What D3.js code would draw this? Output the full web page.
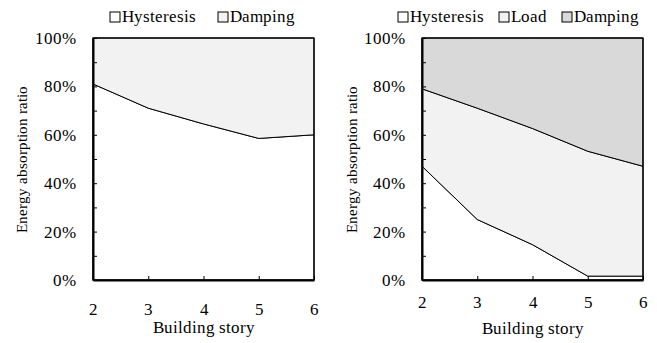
<!DOCTYPE html>
<html>
<head>
<meta charset="utf-8">
<script src="https://cdn.jsdelivr.net/npm/d3@7/dist/d3.min.js"></script>
<style>
  @font-face {
    font-family: "ChartSerif";
    src: local("Liberation Serif"), local("LiberationSerif"), local("LiberationSerif-Regular"),
         local("Times New Roman"), local("DejaVu Serif"), local("DejaVuSerif");
  }
  html, body { margin: 0; padding: 0; background: #fff; }
  svg text { font-family: "ChartSerif", "Liberation Serif", "Times New Roman", serif !important; }
</style>
</head>
<body>
<svg id="chart" width="657" height="343"></svg>
<script>
// Building stories on the x axis
const stories = [2, 3, 4, 5, 6];

// Left panel: energy share (%) per story
const leftHysteresis = [81, 71, 64.5, 58.5, 60];
const leftDamping = [19, 29, 35.5, 41.5, 40];

// Right panel: energy share (%) per story
const rightHysteresis = [47, 25, 14.6, 1.6, 1.6];
const rightLoad = [32, 46, 48, 51.6, 45.4];
const rightDamping = [21, 29, 37.4, 46.8, 53];

// Axis ticks
const yTicks = [0, 10, 20, 30, 40, 50, 60, 70, 80, 90, 100];
const yLabelTicks = [0, 20, 40, 60, 80, 100];

const svg = d3.select("#chart");
const FONT = 17;

function drawPanel(cfg) {
  const x = d3.scaleLinear().domain([2, 6]).range([cfg.x0, cfg.x1]);
  const y = d3.scaleLinear().domain([0, 100]).range([280, 38]);

  const rows = stories.map((s, i) => {
    const r = { story: s };
    cfg.series.forEach(se => { r[se.name] = se.values[i]; });
    return r;
  });
  const stack = d3.stack().keys(cfg.series.map(s => s.name))(rows);

  const g = svg.append("g");

  const area = d3.area()
    .x(d => x(d.data.story))
    .y0(d => y(d[0]))
    .y1(d => y(d[1]));

  g.selectAll("path.layer")
    .data(stack)
    .join("path")
    .attr("class", "layer")
    .attr("d", area)
    .attr("fill", (d, i) => cfg.series[i].color)
    .attr("stroke", "#000")
    .attr("stroke-width", 1)
    .attr("stroke-linejoin", "round");

  // Plot frame
  g.append("rect")
    .attr("x", x(2)).attr("y", y(100))
    .attr("width", x(6) - x(2)).attr("height", y(0) - y(100))
    .attr("fill", "none").attr("stroke", "#000").attr("stroke-width", 1.3);

  // Y axis
  const yAxis = d3.axisLeft(y)
    .tickValues(yTicks)
    .tickSizeInner(-4)
    .tickSizeOuter(0)
    .tickPadding(17)
    .tickFormat(d => yLabelTicks.includes(d) ? d + "%" : "");
  const ya = g.append("g").attr("transform", `translate(${x(2)},0)`).call(yAxis);
  ya.select(".domain").attr("stroke-width", 2);
  ya.selectAll("text").attr("font-size", FONT).attr("fill", "#000");

  // X axis
  const xAxis = d3.axisBottom(x)
    .tickValues(stories)
    .tickSizeInner(-4)
    .tickSizeOuter(0)
    .tickPadding(cfg.xPad)
    .tickFormat(d3.format("d"));
  const xa = g.append("g").attr("transform", `translate(0,${y(0)})`).call(xAxis);
  xa.select(".domain").attr("stroke-width", 2);
  xa.selectAll("text").attr("font-size", FONT).attr("fill", "#000");

  // Axis titles
  g.append("text")
    .attr("x", (cfg.x0 + cfg.x1) / 2)
    .attr("y", cfg.xTitleY)
    .attr("text-anchor", "middle")
    .attr("font-size", FONT)
    .text("Building story");

  g.append("text")
    .attr("transform", `translate(${cfg.yTitleX},159) rotate(-90)`)
    .attr("text-anchor", "middle")
    .attr("font-size", 15)
    .text("Energy absorption ratio");

  // Legend
  const lg = g.append("g");
  cfg.series.forEach((se, i) => {
    const lx = cfg.legendX[i];
    lg.append("rect")
      .attr("x", lx).attr("y", 12)
      .attr("width", 10).attr("height", 10)
      .attr("fill", se.color).attr("stroke", "#000").attr("stroke-width", 1);
    lg.append("text")
      .attr("x", lx + 12).attr("y", 22)
      .attr("font-size", FONT)
      .text(se.name);
  });
}

drawPanel({
  x0: 93, x1: 314,
  xPad: 23, xTitleY: 333, yTitleX: 27,
  legendX: [110, 218],
  series: [
    { name: "Hysteresis", values: leftHysteresis, color: "#ffffff" },
    { name: "Damping", values: leftDamping, color: "#f2f2f2" }
  ]
});

drawPanel({
  x0: 422, x1: 643,
  xPad: 16, xTitleY: 334, yTitleX: 357,
  legendX: [398, 499, 562],
  series: [
    { name: "Hysteresis", values: rightHysteresis, color: "#ffffff" },
    { name: "Load", values: rightLoad, color: "#f2f2f2" },
    { name: "Damping", values: rightDamping, color: "#d9d9d9" }
  ]
});
</script>
</body>
</html>
